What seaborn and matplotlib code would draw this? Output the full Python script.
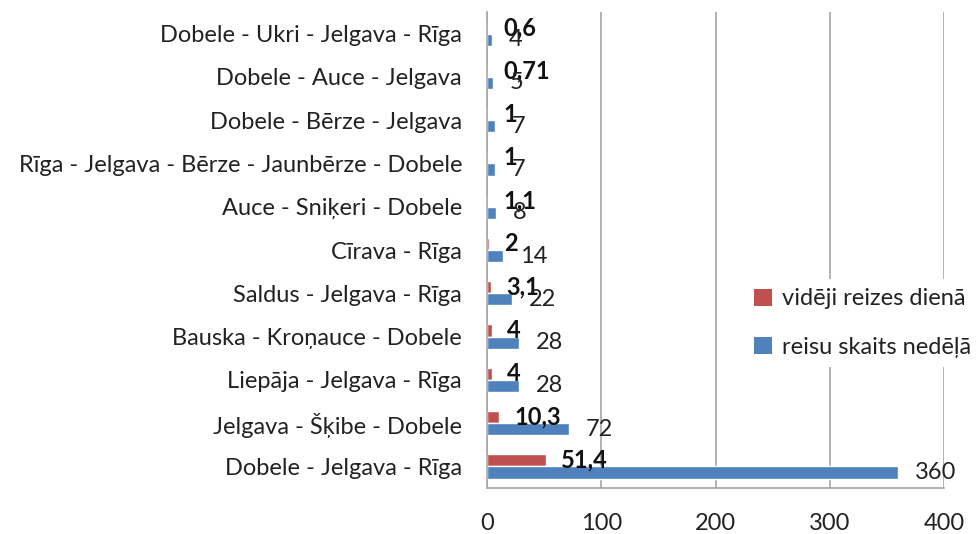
import matplotlib
matplotlib.use("Agg")
import matplotlib.pyplot as plt
import seaborn as sns
import pandas as pd
from matplotlib.patches import Patch

# Routes, listed top to bottom
routes = [
    "Dobele - Ukri - Jelgava - Rīga",
    "Dobele - Auce - Jelgava",
    "Dobele - Bērze - Jelgava",
    "Rīga - Jelgava - Bērze - Jaunbērze - Dobele",
    "Auce - Sniķeri - Dobele",
    "Cīrava - Rīga",
    "Saldus - Jelgava - Rīga",
    "Bauska - Kroņauce - Dobele",
    "Liepāja - Jelgava - Rīga",
    "Jelgava - Šķibe - Dobele",
    "Dobele - Jelgava - Rīga",
]
per_day = [0.6, 0.71, 1, 1, 1.1, 2, 3.1, 4, 4, 10.3, 51.4]
per_week = [4, 5, 7, 7, 8, 14, 22, 28, 28, 72, 360]
series_names = ["vidēji reizes dienā", "reisu skaits nedēļā"]
x_ticks = [0, 100, 200, 300, 400]

RED = "#C0504D"
BLUE = "#4F81BD"
FONT = ["Lato", "DejaVu Sans"]
FS = 17

df = pd.DataFrame({
    "route": routes * 2,
    "value": per_day + per_week,
    "series": [series_names[0]] * len(routes) + [series_names[1]] * len(routes),
})

sns.set_theme(style="white")
plt.rcParams["font.family"] = FONT

fig = plt.figure(figsize=(9.77, 5.34), dpi=100)
ax = fig.add_axes([0.4985, 0.0861, 0.4677, 0.8914])

sns.barplot(
    data=df, y="route", x="value", hue="series", order=routes,
    hue_order=series_names, palette=[RED, BLUE], orient="h",
    width=0.56, gap=0, dodge=True, saturation=1, legend=False, ax=ax,
)

ax.set_xlim(0, 400)
ax.set_xticks(x_ticks)
ax.set_xlabel("")
ax.set_ylabel("")
ax.grid(axis="x", color="#A6A6A6", linewidth=1.2)
ax.set_axisbelow(True)
for side in ["top", "right"]:
    ax.spines[side].set_visible(False)
for side in ["left", "bottom"]:
    ax.spines[side].set_color("#A6A6A6")
    ax.spines[side].set_linewidth(1.2)
ax.tick_params(axis="y", length=0, pad=18, labelsize=FS, labelcolor="#222222")
ax.tick_params(axis="x", length=0, pad=18, labelsize=FS, labelcolor="#222222")

def fmt(v):
    s = f"{v:g}"
    return s.replace(".", ",")

red_bars, blue_bars = ax.containers[0], ax.containers[1]
ax.bar_label(red_bars, labels=[fmt(v) for v in per_day], padding=11,
             fontsize=FS, fontweight="bold", color="#111111", clip_on=False)
ax.bar_label(blue_bars, labels=[fmt(v) for v in per_week], padding=12,
             fontsize=FS, color="#222222", clip_on=False)

handles = [Patch(facecolor=RED, edgecolor="none"), Patch(facecolor=BLUE, edgecolor="none")]
leg = fig.legend(
    handles, series_names, loc="center left", bbox_to_anchor=(0.75, 0.395),
    frameon=True, facecolor="white", edgecolor="none", framealpha=1,
    fontsize=FS, handlelength=0.75, handleheight=0.75, handletextpad=0.45,
    labelspacing=1.15, borderpad=0.4, fancybox=False,
)
for t in leg.get_texts():
    t.set_color("#222222")

fig.savefig("out.png", dpi=100, facecolor="white")
